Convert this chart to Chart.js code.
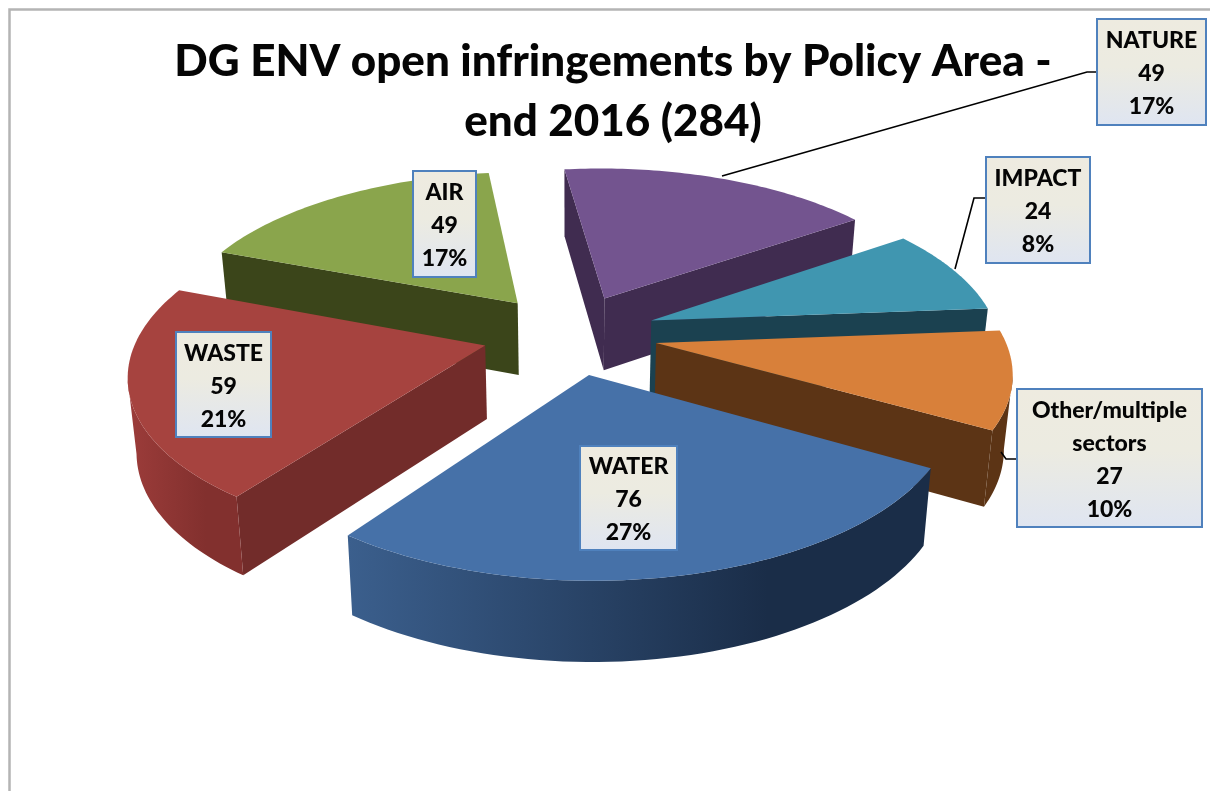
<!DOCTYPE html>
<html>
<head>
<meta charset="utf-8">
<title>DG ENV open infringements</title>
<script src="https://cdn.jsdelivr.net/npm/chart.js@4/dist/chart.umd.min.js"></script>
<style>
  html, body { margin: 0; padding: 0; background: #fff; overflow: hidden; }
  canvas { display: block; }
</style>
</head>
<body>
<canvas id="pie" width="1210" height="791"></canvas>
<script>
// data
const titleLines = ["DG ENV open infringements by Policy Area -", "end 2016 (284)"];
const policyAreas = ["NATURE", "IMPACT", "Other/multiple sectors", "WATER", "WASTE", "AIR"];
const infringements = [49, 24, 27, 76, 59, 49];
const shareLabels = ["17%", "8%", "10%", "27%", "21%", "17%"];

// styles per slice, same order as above
const topColors = ["#73548f", "#4096b0", "#d8803a", "#4671a8", "#a6433f", "#8aa54c"];
const sideColors = ["#402c50", "#1b4150", "#5c3415", "#1b2f4a", "#722c2a", "#3b451a"];
const wallFrom = ["#402c50", "#1b4150", "#5c3415", "#3b5f8d", "#9c3c3a", "#3b451a"];
const wallTo = ["#402c50", "#1b4150", "#5c3415", "#1a2d48", "#82302e", "#3b451a"];

// label boxes: [left, top, right, bottom], text lines come from the data arrays
const labelBoxes = [
  [1097, 19, 1206, 125],
  [986, 157, 1090, 263],
  [1017, 389, 1202, 527],
  [580, 446, 677, 550],
  [176, 332, 271, 437],
  [413, 171, 476, 277]
];
const leaderLines = [
  [[722, 176], [1087, 72], [1097, 72]],
  [[955, 269], [974, 198], [986, 198]],
  [[1001, 452], [1006, 459], [1017, 459]]
];

// perspective of the fake 3d pie
const view = { cx: 570, cy: 334, rx: 347, ry: 160, k: 0.154, explode: 0.252, depth: 73 };

function project(x, y) {
  const s = 1 / (1 - view.k * y);
  return { x: view.cx + view.rx * x * s, y: view.cy + view.ry * y * s, s: s };
}
function lower(p) {
  return { x: view.cx + (p.x - view.cx) * 0.98, y: p.y + view.depth * Math.sqrt(p.s) };
}
function fillPoly(ctx, pts, fill) {
  ctx.beginPath();
  pts.forEach((p, i) => i ? ctx.lineTo(p.x, p.y) : ctx.moveTo(p.x, p.y));
  ctx.closePath();
  ctx.fillStyle = fill;
  ctx.fill();
}

const pie3d = {
  id: "pie3d",
  beforeDraw(chart) {
    const ctx = chart.ctx;
    ctx.save();
    ctx.strokeStyle = "#b4b4b4";
    ctx.lineWidth = 2.5;
    ctx.beginPath();
    ctx.moveTo(9.5, 791);
    ctx.lineTo(9.5, 9.5);
    ctx.lineTo(1210, 9.5);
    ctx.stroke();
    ctx.restore();
  },
  beforeDatasetsDraw(chart) {
    const ctx = chart.ctx;
    const arcs = chart.getDatasetMeta(0).data;
    const mid = a => (a.startAngle + a.endAngle) / 2;
    const order = arcs.map((a, i) => i).sort((p, q) => Math.sin(mid(arcs[p])) - Math.sin(mid(arcs[q])));

    ctx.save();
    order.forEach(i => {
      const arc = arcs[i];
      const ox = Math.cos(mid(arc)) * view.explode;
      const oy = Math.sin(mid(arc)) * view.explode;
      const apex = project(ox, oy);
      const rim = [];
      const steps = 60;
      for (let n = 0; n <= steps; n++) {
        const a = arc.startAngle + (arc.endAngle - arc.startAngle) * n / steps;
        rim.push(project(ox + Math.cos(a), oy + Math.sin(a)));
      }
      // flat cut faces, only the ones turned to the viewer
      const first = rim[0], last = rim[steps];
      if (first.x < apex.x) fillPoly(ctx, [apex, first, lower(first), lower(apex)], sideColors[i]);
      if (apex.x < last.x) fillPoly(ctx, [last, apex, lower(apex), lower(last)], sideColors[i]);
      // round wall
      const wall = [];
      for (let n = 0; n < steps; n++) {
        if (rim[n + 1].x < rim[n].x) wall.push(n);
      }
      if (wall.length) {
        const front = wall.map(n => rim[n]).concat(rim[wall[wall.length - 1] + 1]);
        const xs = front.map(p => p.x);
        const grad = ctx.createLinearGradient(Math.min(...xs), 0, Math.max(...xs), 0);
        grad.addColorStop(0, wallFrom[i]);
        grad.addColorStop(0.72, wallTo[i]);
        grad.addColorStop(1, wallTo[i]);
        fillPoly(ctx, front.concat(front.slice().reverse().map(lower)), grad);
      }
      fillPoly(ctx, [apex].concat(rim), arc.options.backgroundColor);
    });
    ctx.restore();
    return false;
  },
  afterDraw(chart) {
    const ctx = chart.ctx;
    ctx.save();
    ctx.strokeStyle = "#000";
    ctx.lineWidth = 1.6;
    leaderLines.forEach(line => {
      ctx.beginPath();
      line.forEach((p, i) => i ? ctx.lineTo(p[0], p[1]) : ctx.moveTo(p[0], p[1]));
      ctx.stroke();
    });
    policyAreas.forEach((name, i) => {
      const [l, t, r, b] = labelBoxes[i];
      const grad = ctx.createLinearGradient(0, t, 0, b);
      grad.addColorStop(0, "#eeebe0");
      grad.addColorStop(0.45, "#ecebe1");
      grad.addColorStop(1, "#dfe5f1");
      ctx.fillStyle = grad;
      ctx.fillRect(l, t, r - l, b - t);
      ctx.strokeStyle = "#4f81bd";
      ctx.lineWidth = 2;
      ctx.strokeRect(l, t, r - l, b - t);

      const lines = (name === "Other/multiple sectors" ? ["Other/multiple", "sectors"] : [name])
        .concat(String(infringements[i]), shareLabels[i]);
      ctx.fillStyle = "#050505";
      ctx.font = "900 23px Lato";
      ctx.textAlign = "center";
      ctx.textBaseline = "middle";
      const mx = (l + r) / 2, my = (t + b) / 2 + 2, pitch = 33;
      lines.forEach((txt, n) => {
        ctx.fillText(txt, mx, my + (n - (lines.length - 1) / 2) * pitch);
      });
    });
    ctx.restore();
  }
};

new Chart(document.getElementById("pie"), {
  type: "pie",
  data: {
    labels: policyAreas,
    datasets: [{ data: infringements, backgroundColor: topColors, rotation: -7 }]
  },
  options: {
    responsive: false,
    animation: false,
    layout: { padding: { left: 16 } },
    plugins: {
      legend: { display: false },
      tooltip: { enabled: false },
      title: {
        display: true,
        text: titleLines,
        color: "#050505",
        font: { family: "Lato", weight: "900", size: 44, lineHeight: 1.364 },
        padding: { top: 32, bottom: 10 }
      }
    }
  },
  plugins: [pie3d]
});
</script>
</body>
</html>
